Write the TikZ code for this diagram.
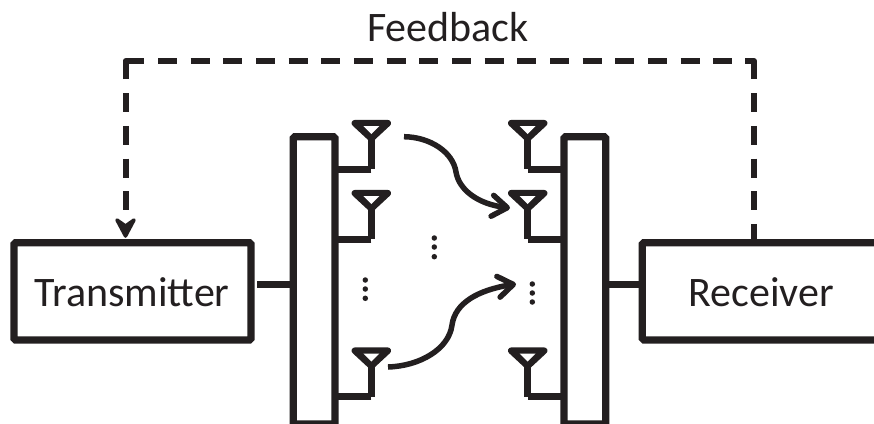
\documentclass[tikz,border=0pt]{standalone}
\usepackage{fontspec}
\setmainfont{Carlito}
\usetikzlibrary{arrows.meta}
\definecolor{ink}{HTML}{231F20}
\tikzset{
  x=1pt,y=-1pt,
  wire/.style={draw=ink,line width=7pt,line join=round},
  stem/.style={draw=ink,line width=6.5pt,line join=round},
  dashwire/.style={draw=ink,line width=6pt,line join=round},
  dashed33/.style={dashwire,dash pattern=on 19pt off 13.67pt},
  bigbox/.style={draw=ink,line width=7.2pt,rounded corners=1.5pt,fill=white,outer sep=0pt,inner sep=0pt},
  lab/.style={text=ink,font=\fontsize{42}{46}\selectfont,inner sep=0pt,anchor=base},
  ant/.style={draw=ink,fill=ink,line width=6.5pt,line join=round},
  antin/.style={fill=white},
  curvearrow/.style={draw=ink,line width=5.5pt,-{Straight Barb[length=15pt,width=21pt,round]}},
  vdot/.style={fill=ink,circle,inner sep=0pt,minimum size=5.5pt}
}
\newcommand{\antenna}[3]{% x, top y, base y
  \path[ant] (#1-16.5,#2+3.2) -- (#1+16.5,#2+3.2) -- (#1,#2+18.5) -- cycle;
  \path[antin] (#1-8,#2+6) -- (#1+8,#2+6) -- (#1,#2+14) -- cycle;
  \path[stem] (#1,#2+18.5) -- (#1,#3);
}
\begin{document}
\begin{tikzpicture}
\useasboundingbox (0,0) rectangle (874,423);
\clip (0,0) rectangle (874,423);
\node[lab] (fb) at (448,41) {Feedback};

\coordinate (midy) at (0,284.3);

% boxes
\node[bigbox,minimum width=237pt,minimum height=97.3pt] (txb) at (132.5,291.3) {};
\node[bigbox,minimum width=260pt,minimum height=97.3pt] (rxb) at (772.3,291.3) {};
\node[bigbox,minimum width=41.7pt,minimum height=287.3pt] (bl) at (314.15,280.35) {};
\node[bigbox,minimum width=41.7pt,minimum height=287.3pt] (br) at (584.85,280.35) {};
\draw[wire,shorten <=6pt] (txb.east |- midy) -- (bl.west |- midy);
\draw[wire] (br.east |- midy) -- (rxb.west |- midy);
\node[lab] (tx) at (132,306) {Transmitter};
\node[lab] (rx) at (761,306) {Receiver};

% antennas
\foreach \t/\b in {120/169.3,190/239.3,347.5/396.7}{
  \antenna{371.3}{\t}{\b}
  \path[wire] (371.3,\b) -- (bl.east |- 0,\b);
  \antenna{527.7}{\t}{\b}
  \path[wire] (527.7,\b) -- (br.west |- 0,\b);
}

% dots
\foreach \y in {238,247,256.7}{\node[vdot] at (434.3,\y) {};}
\foreach \y in {280,289,298.3}{\node[vdot] at (365.3,\y) {};}
\foreach \y in {284,293,302}{\node[vdot] at (532.3,\y) {};}

% curves
\path[curvearrow] (404,136.7) .. controls (430,137) and (453,152) .. (456,172) .. controls (459,190) and (478,204) .. (510,208);
\path[curvearrow] (388,367) .. controls (420,366) and (449,349) .. (452,325) .. controls (455,303) and (478,290) .. (516,284);

% feedback
\coordinate (tl) at (125.5,61);
\coordinate (tr) at (754,61);
\draw[dashwire] (125.5,79) -- (tl) -- (144,61);
\draw[dashed33] (158,61) -- (745,61);
\draw[dashwire] (745,61) -- (tr) -- (754,79);
\draw[dashed33] (754,93.3) -- (rxb.north -| tr);
\draw[dashed33] (125.5,93.3) -- (125.5,210);
\path[draw=ink,fill=ink,line width=3.5pt,line join=round] (117,220) -- (125.5,226) -- (134,220) -- (125.5,236) -- cycle;
\end{tikzpicture}
\end{document}
